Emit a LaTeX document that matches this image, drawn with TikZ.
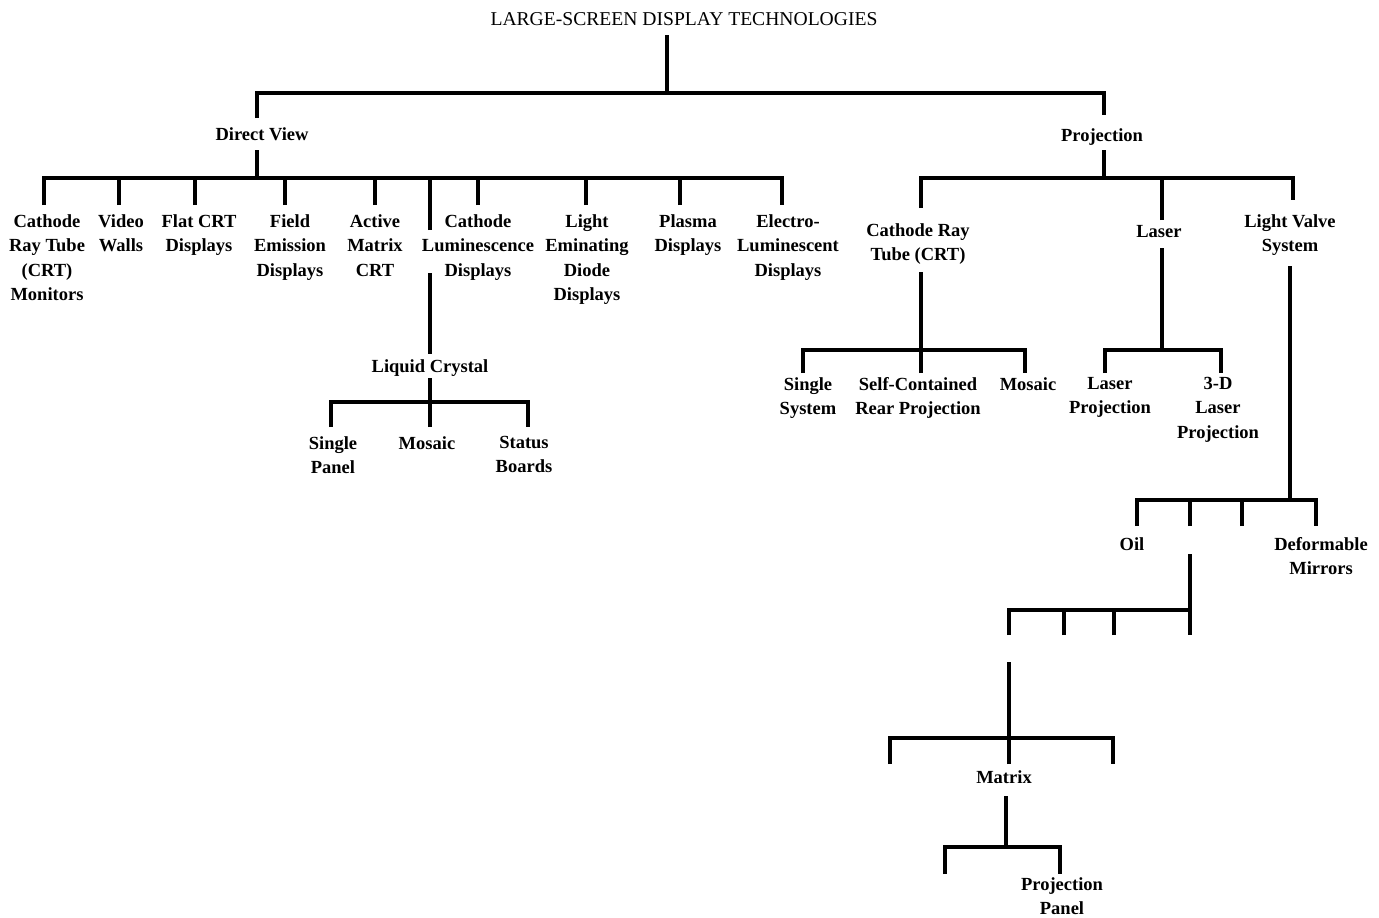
\documentclass[tikz,border=0pt]{standalone}
\usepackage{fontspec}
\setmainfont{Liberation Serif}
\newcommand\lblfont{\fontsize{18.5}{24.5}\selectfont\bfseries}
\newcommand\ttlfont{\fontsize{19.6}{24}\selectfont}
\begin{document}
\begin{tikzpicture}[x=1pt,y=-1pt,
  wire/.style={line width=3.2pt, line join=miter},
  lbl/.style={font=\lblfont, align=center, inner sep=0pt, anchor=north},
  ttl/.style={font=\ttlfont, inner sep=0pt, anchor=north}]
\useasboundingbox (0,0) rectangle (1379,918);

% ---------- labels ----------
\node[ttl] (title) at (684,12) {LARGE-SCREEN DISPLAY TECHNOLOGIES};
\node[lbl] (dv) at (262,127) {Direct View};
\node[lbl] (pj) at (1102,128) {Projection};
\node[lbl] (c1) at (47,214) {Cathode\\Ray Tube\\(CRT)\\Monitors};
\node[lbl] (c2) at (121,214) {Video\\Walls};
\node[lbl] (c3) at (199,214) {Flat CRT\\Displays};
\node[lbl] (c4) at (290,214) {Field\\Emission\\Displays};
\node[lbl] (c5) at (375,214) {Active\\Matrix\\CRT};
\node[lbl] (c6) at (478,214) {Cathode\\Luminescence\\Displays};
\node[lbl] (c7) at (587,214) {Light\\Eminating\\Diode\\Displays};
\node[lbl] (c8) at (688,214) {Plasma\\Displays};
\node[lbl] (c9) at (788,214) {Electro-\\Luminescent\\Displays};
\node[lbl] (lc) at (430,359) {Liquid Crystal};
\node[lbl] (lc1) at (333,436) {Single\\Panel};
\node[lbl] (lc2) at (427,436) {Mosaic};
\node[lbl] (lc3) at (524,436) {Status\\Boards};
\node[lbl] (p1) at (918,223) {Cathode Ray\\Tube (CRT)};
\node[lbl] (p2) at (1159,225) {Laser};
\node[lbl] (p3) at (1290,214) {Light Valve\\System};
\node[lbl] (p11) at (808,377) {Single\\System};
\node[lbl] (p12) at (918,377) {Self-Contained\\Rear Projection};
\node[lbl] (p13) at (1028,377) {Mosaic};
\node[lbl] (p21) at (1110,377) {Laser\\Projection};
\node[lbl] (p22) at (1218,377) {3-D\\Laser\\Projection};
\node[lbl] (p31) at (1132,537) {Oil};
\node[lbl] (p34) at (1321,537) {Deformable\\Mirrors};
\node[lbl] (mx) at (1004,770) {Matrix};
\node[lbl] (pp) at (1062,877) {Projection\\Panel};

% ---------- root ----------
\coordinate (r0) at (667,35); \coordinate (r1) at (667,93);
\coordinate (dvin) at (257,118); \coordinate (pjin) at (1104,115);
\draw[wire] (r0) -- (r1);
\draw[wire] (dvin) |- (r1) -| (pjin);

% ---------- direct view ----------
\coordinate (dvout) at (257,150); \coordinate (dvbar) at (257,178);
\draw[wire] (dvout) -- (dvbar);
\coordinate (d1) at (44,205);  \coordinate (d2) at (119,205);
\coordinate (d3) at (195,205); \coordinate (d4) at (285,205);
\coordinate (d5) at (375,205); \coordinate (d6) at (430,230);
\coordinate (d7) at (478,205); \coordinate (d8) at (586,205);
\coordinate (d9) at (680,205); \coordinate (d10) at (782,205);
\draw[wire] (d1) |- (dvbar) -| (d10);
\foreach \c in {d2,d3,d4,d5,d6,d7,d8,d9} \draw[wire] (\c) -- (\c |- dvbar);

% liquid crystal
\coordinate (lcgap) at (430,273); \coordinate (lcin) at (430,354);
\draw[wire] (lcgap) -- (lcin);
\coordinate (lcout) at (430,378); \coordinate (lcbar) at (430,402);
\draw[wire] (lcout) -- (lcbar);
\coordinate (l1) at (331,427); \coordinate (l2) at (430,427); \coordinate (l3) at (528,427);
\draw[wire] (l1) |- (lcbar) -| (l3);
\draw[wire] (l2) -- (lcbar);

% ---------- projection ----------
\coordinate (pjout) at (1104,150); \coordinate (pjbar) at (1104,178);
\draw[wire] (pjout) -- (pjbar);
\coordinate (q1) at (921,208); \coordinate (q2) at (1162,220); \coordinate (q3) at (1293,200);
\draw[wire] (q1) |- (pjbar) -| (q3);
\draw[wire] (q2) -- (q2 |- pjbar);

% CRT
\coordinate (crtout) at (921,272); \coordinate (crtbar) at (921,350);
\draw[wire] (crtout) -- (crtbar);
\coordinate (s1) at (803,373); \coordinate (s2) at (921,373); \coordinate (s3) at (1025,373);
\draw[wire] (s1) |- (crtbar) -| (s3);
\draw[wire] (s2) -- (crtbar);

% Laser
\coordinate (lsout) at (1162,248); \coordinate (lsbar) at (1162,350);
\draw[wire] (lsout) -- (lsbar);
\coordinate (t1) at (1105,373); \coordinate (t2) at (1221,373);
\draw[wire] (t1) |- (lsbar) -| (t2);

% Light valve
\coordinate (lvout) at (1290,266); \coordinate (lvbar) at (1290,500);
\draw[wire] (lvout) -- (lvbar);
\coordinate (u1) at (1137,526); \coordinate (u2) at (1190,526);
\coordinate (u3) at (1242,526); \coordinate (u4) at (1316,526);
\draw[wire] (u1) |- (lvbar) -| (u4);
\draw[wire] (u2) -- (u2 |- lvbar);
\draw[wire] (u3) -- (u3 |- lvbar);

% under Oil column
\coordinate (oout) at (1190,554); \coordinate (obar) at (1190,610);
\coordinate (v1) at (1009,635); \coordinate (v2) at (1064,635);
\coordinate (v3) at (1114,635); \coordinate (v4) at (1190,635);
\draw[wire] (oout) -- (v4);
\draw[wire] (v1) |- (obar);
\draw[wire] (v2) -- (v2 |- obar);
\draw[wire] (v3) -- (v3 |- obar);

\coordinate (w0) at (1009,662); \coordinate (wbar) at (1009,738);
\draw[wire] (w0) -- (wbar);
\coordinate (w1) at (890,764); \coordinate (w2) at (1009,764); \coordinate (w3) at (1113,764);
\draw[wire] (w1) |- (wbar) -| (w3);
\draw[wire] (w2) -- (wbar);

% Matrix
\coordinate (mout) at (1006,796); \coordinate (mbar) at (1006,847);
\draw[wire] (mout) -- (mbar);
\coordinate (x1) at (945,874); \coordinate (x2) at (1060,874);
\draw[wire] (x1) |- (mbar) -| (x2);
\end{tikzpicture}
\end{document}
